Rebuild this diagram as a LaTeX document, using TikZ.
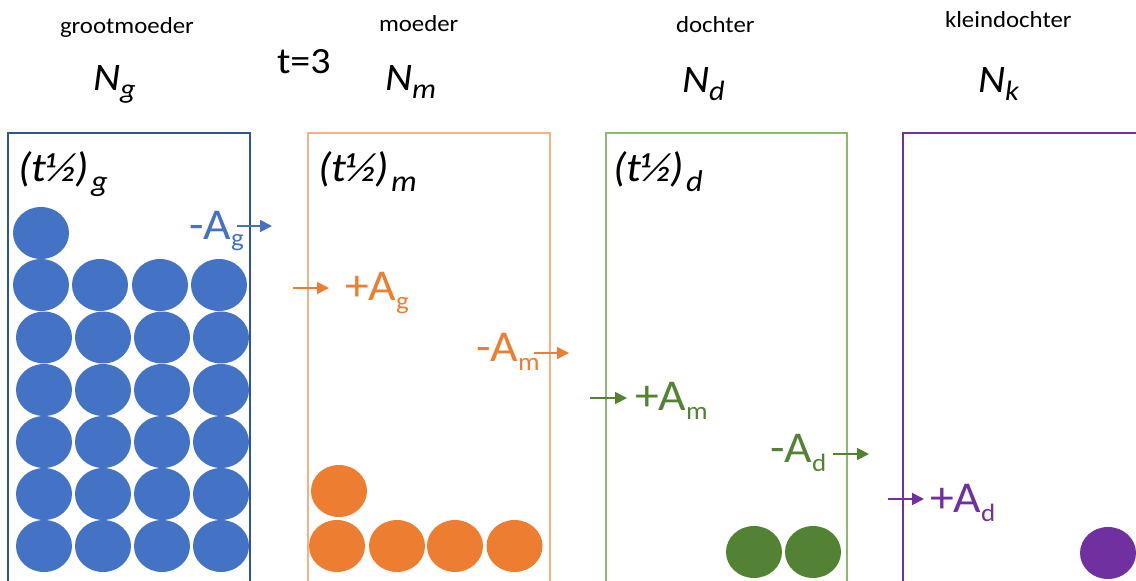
\documentclass[tikz,border=0pt]{standalone}
\usepackage{fontspec}
\setmainfont{Carlito}
\usepackage{graphicx}
\usetikzlibrary{arrows.meta}
\definecolor{cblue}{HTML}{4472C4}
\definecolor{cblueline}{HTML}{2F5597}
\definecolor{corange}{HTML}{ED7D31}
\definecolor{corangeline}{HTML}{F4B183}
\definecolor{cgreen}{HTML}{548235}
\definecolor{cgreenline}{HTML}{8CB870}
\definecolor{cpurple}{HTML}{7030A0}
\newcommand{\wide}[1]{\scalebox{1.08}[1]{#1}}
\newcommand{\mysub}[2]{\raisebox{-#1pt}{\fontsize{28}{30}\selectfont #2}}
\newcommand{\halfsub}[2]{\raisebox{-#1pt}{\fontsize{30}{32}\selectfont #2}}
\newcommand{\flowsub}[2]{\raisebox{-#1pt}{\fontsize{25}{28}\selectfont #2}}
\begin{document}
\begin{tikzpicture}[x=1pt,y=-1pt,
  lbl/.style={anchor=base west, inner sep=0pt, outer sep=0pt},
  small/.style={lbl, font=\fontsize{23}{26}\selectfont},
  big/.style={lbl, font=\fontsize{39}{44}\selectfont\itshape},
  half/.style={lbl, font=\fontsize{41}{44}\selectfont\itshape},
  flow/.style={lbl, font=\fontsize{44}{48}\selectfont},
  arr/.style={line width=1.8pt, -{Triangle[length=12pt,width=12pt]}},
  boxline/.style={line width=1.2pt},
  ball/.style={x radius=28, y radius=26},
]
\useasboundingbox (0,0) rectangle (1136,581);

% boxes
\draw[boxline, cblueline] (8,581) -- (8,133) -- (250,133) -- (250,581);
\draw[boxline, corangeline] (308,581) -- (308,133) -- (550,133) -- (550,581);
\draw[boxline, cgreenline] (606,581) -- (606,133) -- (847,133) -- (847,581);
\draw[boxline, cpurple] (903,581) -- (903,133) -- (1136,133);

% top labels
\node[small] (lg) at (60,33) {\wide{grootmoeder}};
\node[small] (lm) at (379,31) {\wide{moeder}};
\node[small] (ld) at (676,32) {\wide{dochter}};
\node[small] (lk) at (945,27) {\wide{kleindochter}};
\node[lbl, font=\fontsize{37}{40}\selectfont] (t3) at (277,73) {\wide{t=3}};
\node[big] (Ng) at (93,90) {\wide{N\mysub{8}{g}}};
\node[big] (Nm) at (385,90) {\wide{N\mysub{8}{m}}};
\node[big] (Nd) at (682,92) {\wide{N\mysub{8}{d}}};
\node[big] (Nk) at (978,92) {\wide{N\mysub{8}{k}}};

% half-lives
\node[half] (hg) at (18,181) {\wide{(t½)\hspace{1.5pt}\halfsub{10}{g}}};
\node[half] (hm) at (318,181) {\wide{(t½)\hspace{1.5pt}\halfsub{10}{m}}};
\node[half] (hd) at (613,181) {\wide{(t½)\hspace{1.5pt}\halfsub{10}{d}}};

% circles
\fill[cblue] (41,233) ellipse [ball];
\foreach \x in {41,100,160,219} \fill[cblue] (\x,285) ellipse [ball];
\foreach \y in {337.5,390,442,494,546}
  \foreach \x in {44,103,162,221} \fill[cblue] (\x,\y) ellipse [ball];
\fill[corange] (339,491) ellipse [ball];
\foreach \x in {337,397,455,514.5} \fill[corange] (\x,546) ellipse [ball];
\fill[cgreen] (754,552) ellipse [ball];
\fill[cgreen] (813,552) ellipse [ball];
\fill[cpurple] (1108,553) ellipse [ball];

% flows
\node[flow, text=cblue] (mAg) at (189,239) {\wide{-A\flowsub{7}{g}}};
\coordinate (a1s) at (237,226); \coordinate (a1e) at (272,226);
\draw[arr, cblue] (a1s) -- (a1e);

\coordinate (a2s) at (293,288); \coordinate (a2e) at (329,288);
\draw[arr, corange] (a2s) -- (a2e);
\node[flow, text=corange] (pAg) at (345,300) {\wide{+A\flowsub{9}{g}}};

\node[flow, text=corange] (mAm) at (476,361) {\wide{-A\flowsub{9}{m}}};
\coordinate (a3s) at (534,353); \coordinate (a3e) at (569,353);
\draw[arr, corange] (a3s) -- (a3e);

\coordinate (a4s) at (590,398); \coordinate (a4e) at (627,398);
\draw[arr, cgreen] (a4s) -- (a4e);
\node[flow, text=cgreen] (pAm) at (635,410) {\wide{+A\flowsub{9}{m}}};

\node[flow, text=cgreen] (mAd) at (770,462) {\wide{-A\flowsub{9}{d}}};
\coordinate (a5s) at (833,454); \coordinate (a5e) at (869,454);
\draw[arr, cgreen] (a5s) -- (a5e);

\coordinate (a6s) at (888,499); \coordinate (a6e) at (924,499);
\draw[arr, cpurple] (a6s) -- (a6e);
\node[flow, text=cpurple] (pAd) at (930,512) {\wide{+A\flowsub{9}{d}}};
\end{tikzpicture}
\end{document}
